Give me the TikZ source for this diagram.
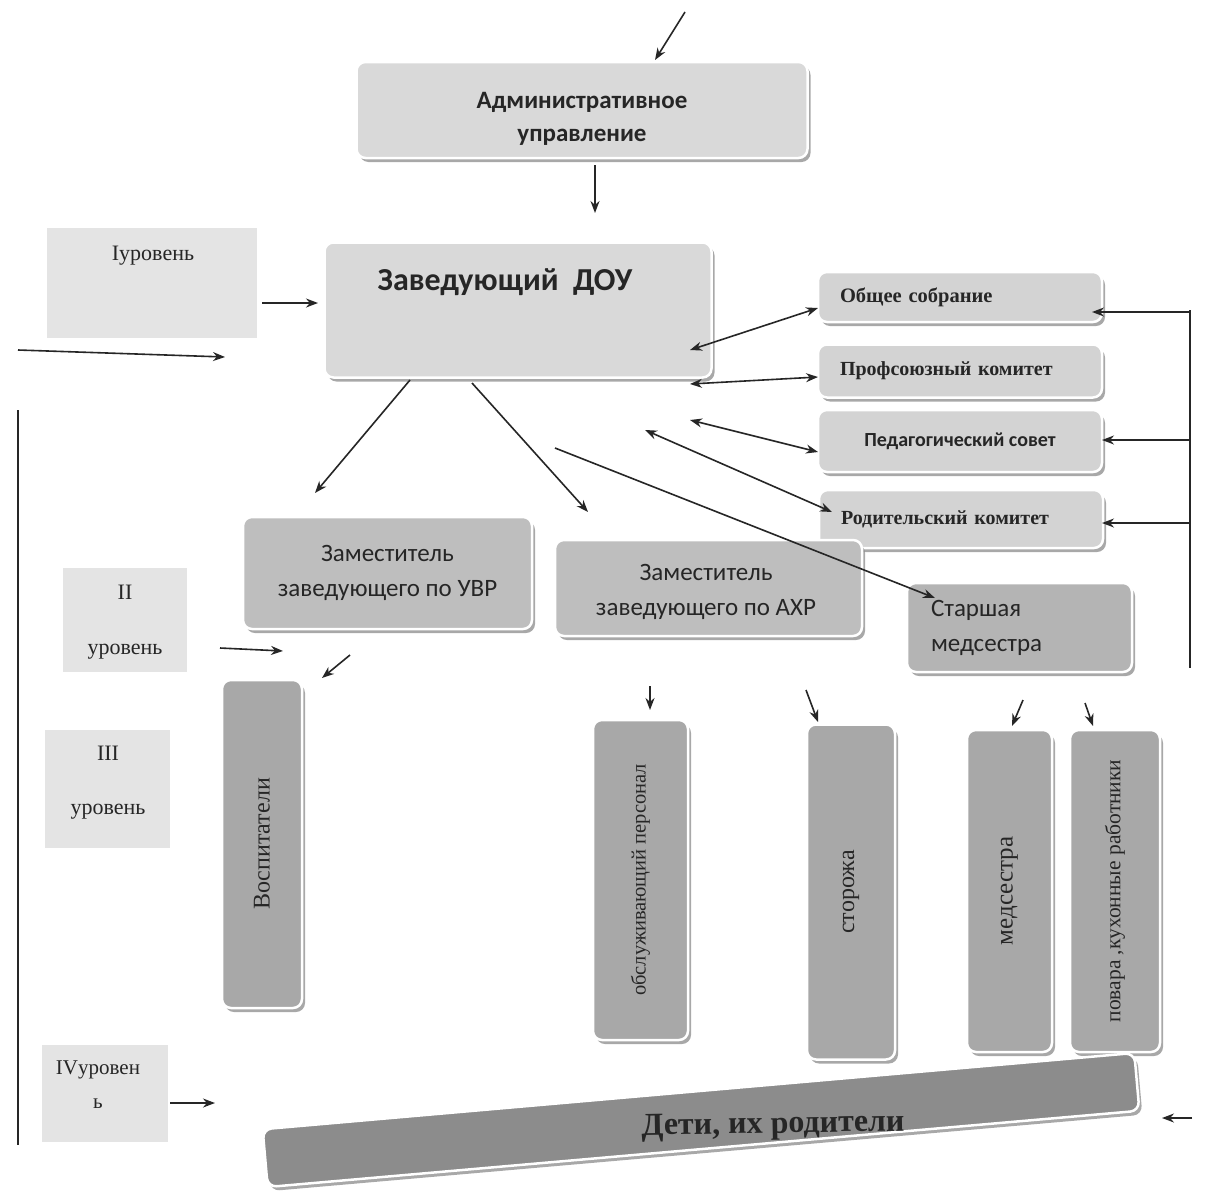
\documentclass[tikz,border=0pt]{standalone}
\usepackage{fontspec}
\setmainfont{Liberation Serif}
\newfontfamily\calfont{Carlito}
\usetikzlibrary{shadows,arrows.meta,calc}
\definecolor{lvlc}{HTML}{E4E4E4}
\definecolor{topc}{HTML}{D9D9D9}
\definecolor{rc}{HTML}{D3D3D3}
\definecolor{zamc}{HTML}{BEBEBE}
\definecolor{medc}{HTML}{B4B4B4}
\definecolor{vc}{HTML}{A8A8A8}
\definecolor{detc}{HTML}{8C8C8C}
\definecolor{txt}{HTML}{262626}
\begin{document}
\begin{tikzpicture}[x=1pt,y=-1pt,
  arr/.style={-{Stealth[length=12pt,width=9pt]}, line width=1.6pt, draw=txt},
  darr/.style={{Stealth[length=12pt,width=9pt]}-{Stealth[length=12pt,width=9pt]}, line width=1.6pt, draw=txt},
  plain/.style={line width=1.5pt, draw=txt},
  sbox/.style={rounded corners=9pt, draw=white, line width=2.5pt, inner sep=2pt, align=center, text=txt,
     drop shadow={shadow xshift=3pt, shadow yshift=-4pt, fill=black!45, opacity=0.75}},
  rbox/.style={sbox, fill=rc, minimum width=284, inner xsep=22pt, text width=240pt, align=left},
  vbox/.style={sbox, fill=vc},
  lvl/.style={fill=lvlc, draw=none, inner sep=0pt},
  lvlt/.style={align=center, text=txt, inner sep=0pt},
  sansb/.style={font=\calfont\bfseries\fontsize{25}{33}\selectfont},
  sansr/.style={font=\calfont\fontsize{25}{35}\selectfont},
]
\useasboundingbox[fill=white] (0,0) rectangle (1215,1194);

% level labels
\node[lvl, minimum width=210, minimum height=110] (l1) at (152,283) {};
\node[lvlt, font=\fontsize{22}{26}\selectfont] (l1t) at (153,256) {Iуровень};
\node[lvl, minimum width=124, minimum height=104] (l2) at (125,620) {};
\node[lvlt, font=\fontsize{22}{55}\selectfont] (l2t) at (125,622) {II\\уровень};
\node[lvl, minimum width=125, minimum height=118] (l3) at (107.5,789) {};
\node[lvlt, font=\fontsize{22}{54}\selectfont] (l3t) at (108,783) {III\\уровень};
\node[lvl, minimum width=126, minimum height=97] (l4) at (105,1093) {};
\node[lvlt, font=\fontsize{21}{34}\selectfont] (l4t) at (98,1085) {IVуровен\\ь};

% top boxes
\node[sbox, fill=topc, minimum width=451, minimum height=96] (adm) at (582,110) {};
\node[lvlt, sansb] (admt) at (582,119) {Административное\\управление};
\node[sbox, fill=topc, minimum width=387, minimum height=135] (zav) at (518,310) {};
\node[font=\calfont\bfseries\fontsize{32}{36}\selectfont, text=txt] (zavt) at (505,282) {Заведующий\ \ ДОУ};

% right column
\node[rbox, minimum height=50, font=\bfseries\fontsize{20.5}{22}\selectfont] (obs) at (960,297) {Общее собрание};
\node[rbox, minimum height=53, font=\bfseries\fontsize{20}{22}\selectfont] (prof) at (960,371) {Профсоюзный комитет};
\node[sbox, fill=rc, minimum width=284, minimum height=62, font=\calfont\bfseries\fontsize{20}{22}\selectfont] (ped) at (960,441) {Педагогический совет};
\node[rbox, minimum height=58, font=\bfseries\fontsize{20}{22}\selectfont] (rod) at (961,519) {Родительский комитет};

% deputies
\node[sbox, fill=zamc, minimum width=289, minimum height=112, sansr] (uvr) at (387.5,573) {Заместитель\\заведующего по УВР};
\node[sbox, fill=zamc, minimum width=307, minimum height=96] (ahr) at (708.5,588) {};
\node[lvlt, sansr] (ahrt) at (706,592) {Заместитель\\заведующего по АХР};
\node[sbox, fill=medc, minimum width=225, minimum height=89, sansr, inner xsep=24pt, text width=177pt, align=left] (smed) at (1019.5,627.5) {Старшая\\медсестра};

% vertical boxes
\node[vbox, minimum width=80, minimum height=328, font=\fontsize{24}{26}\selectfont] (vosp) at (262,844) {\rotatebox{90}{Воспитатели}};
\node[vbox, minimum width=95, minimum height=320, font=\fontsize{20.5}{24}\selectfont] (obsl) at (640.5,880) {\rotatebox{90}{обслуживающий персонал}};
\node[vbox, minimum width=88, minimum height=335, font=\fontsize{24}{26}\selectfont] (stor) at (851,892) {\rotatebox{90}{сторожа}};
\node[vbox, minimum width=85, minimum height=322, font=\fontsize{25}{26}\selectfont] (meds) at (1009.5,891) {\rotatebox{90}{медсестра}};
\node[vbox, minimum width=90, minimum height=322, font=\fontsize{21.5}{24}\selectfont] (povar) at (1115,891) {\rotatebox{90}{повара ,кухонные работники}};

% children bar
\node[sbox, fill=detc, minimum width=875, minimum height=58, rotate=5] (deti) at (701,1120) {};
\node[font=\bfseries\fontsize{32}{34}\selectfont, text=black!85, rotate=1] (detit) at (773,1126) {Дети, их родители};

% free ends of connectors
\coordinate (c1) at (685,12);   \coordinate (c2) at (655,60);
\coordinate (c3) at (595,165);  \coordinate (c4) at (595,213);
\coordinate (c5) at (262,303);  \coordinate (c6) at (318,303);
\coordinate (c7) at (18,350);   \coordinate (c8) at (225,357);
\coordinate (a1) at (690,350);  \coordinate (b1) at (818,308);
\coordinate (a2) at (690,384);  \coordinate (b2) at (818,377);
\coordinate (a3) at (690,420);  \coordinate (b3) at (818,452);
\coordinate (a4) at (645,430);  \coordinate (b4) at (832,512);
\coordinate (s1) at (555,448);  \coordinate (s2) at (935,598);
\coordinate (d1) at (410,380);  \coordinate (d2) at (315,493);
\coordinate (d3) at (472,383);  \coordinate (d4) at (588,512);
\coordinate (e1) at (220,648);  \coordinate (e2) at (283,651);
\coordinate (e3) at (350,655);  \coordinate (e4) at (322,678);
\coordinate (f1) at (650,686);  \coordinate (f2) at (650,710);
\coordinate (f3) at (806,690);  \coordinate (f4) at (818,722);
\coordinate (f5) at (1023,700); \coordinate (f6) at (1012,726);
\coordinate (f7) at (1085,703); \coordinate (f8) at (1093,726);
\coordinate (g1) at (170,1103); \coordinate (g2) at (215,1103);
\coordinate (g3) at (1192,1118);\coordinate (g4) at (1162,1118);
\coordinate (br1) at (1190,310);\coordinate (br2) at (1190,668);
\coordinate (br3) at (1190,312);\coordinate (br4) at (1092,312);
\coordinate (br5) at (1190,440);\coordinate (br6) at (1102,440);
\coordinate (br7) at (1190,523);\coordinate (br8) at (1102,523);
\coordinate (ll1) at (18,410);  \coordinate (ll2) at (18,1145);

\draw[arr] (c1) -- (c2);
\draw[arr] (c3) -- (c4);
\draw[arr] (c5) -- (c6);
\draw[arr] (c7) -- (c8);
\draw[darr] (a1) -- (b1);
\draw[darr] (a2) -- (b2);
\draw[darr] (a3) -- (b3);
\draw[darr] (a4) -- (b4);
\draw[arr] (s1) -- (s2);
\draw[arr] (d1) -- (d2);
\draw[arr] (d3) -- (d4);
\draw[arr] (e1) -- (e2);
\draw[arr] (e3) -- (e4);
\draw[arr] (f1) -- (f2);
\draw[arr] (f3) -- (f4);
\draw[arr] (f5) -- (f6);
\draw[arr] (f7) -- (f8);
\draw[arr] (g1) -- (g2);
\draw[arr] (g3) -- (g4);
\draw[plain] (br1) -- (br2);
\draw[arr] (br3) -- (br4);
\draw[arr] (br5) -- (br6);
\draw[arr] (br7) -- (br8);
\draw[plain] (ll1) -- (ll2);
\end{tikzpicture}
\end{document}
